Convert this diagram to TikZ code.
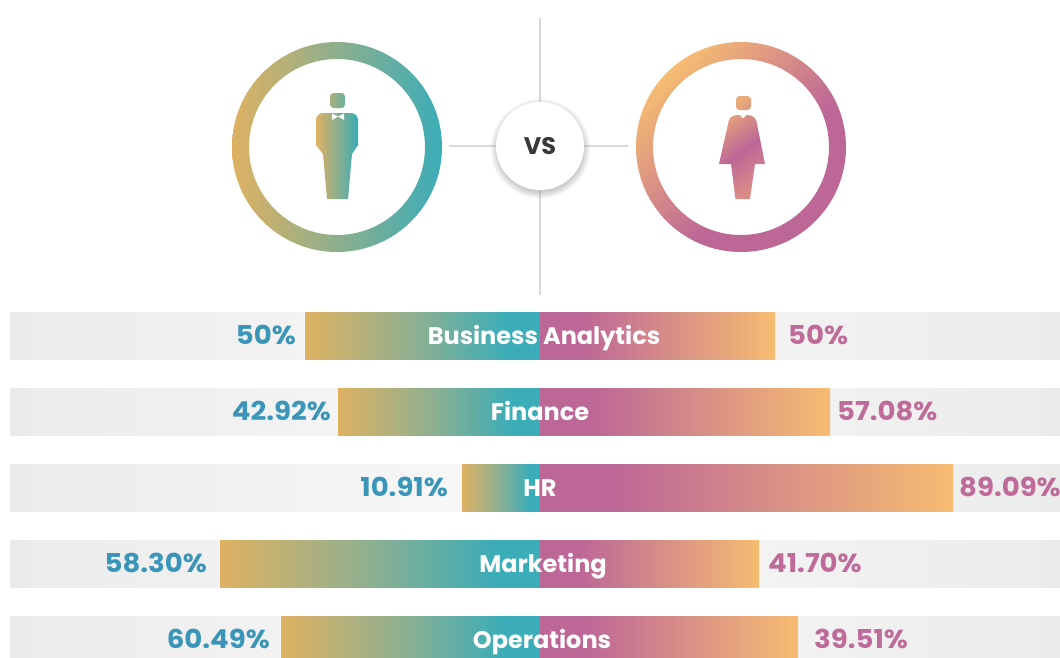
\documentclass[tikz,border=0pt]{standalone}
\usepackage{fontspec}
\setmainfont{Poppins}
\newfontfamily\widepop[FakeStretch=1.06]{Poppins}
\usetikzlibrary{shadows,fadings}
\definecolor{cteal}{HTML}{3BADB8}
\definecolor{cgold}{HTML}{DEB162}
\definecolor{cmidg}{HTML}{93B08E}
\definecolor{cpink}{HTML}{BD6797}
\definecolor{corange}{HTML}{F6BC72}
\definecolor{cpo}{HTML}{D98C87}
\definecolor{cblue}{HTML}{3A95B8}
\definecolor{cmauve}{HTML}{BF6B9A}
\definecolor{ctrack}{HTML}{EBEBEB}
\definecolor{ctrackl}{HTML}{F9F9F9}
\definecolor{cguide}{HTML}{D9D9D9}
\definecolor{cvs}{HTML}{383838}
\pgfdeclarehorizontalshading{mbar}{100bp}{color(0bp)=(cgold); color(25bp)=(cgold); color(47bp)=(cmidg); color(68bp)=(cteal); color(100bp)=(cteal)}
\pgfdeclarehorizontalshading{wbar}{100bp}{color(0bp)=(cpink); color(25bp)=(cpink); color(34bp)=(cpink); color(75bp)=(corange); color(100bp)=(corange)}
\pgfdeclareverticalshading{wring}{100bp}{color(0bp)=(cpink); color(25bp)=(cpink); color(42bp)=(cpink); color(75bp)=(corange); color(100bp)=(corange)}
\pgfdeclareverticalshading{wicon}{100bp}{color(0bp)=(cpo); color(25bp)=(cpo); color(48bp)=(cpink); color(75bp)=(corange!80!cpink); color(100bp)=(corange!80!cpink)}
\newcommand{\pctfont}{\widepop\bfseries\fontsize{26}{26}\selectfont}
\newcommand{\labfont}{\bfseries\fontsize{24}{24}\selectfont}
\begin{document}
\begin{tikzpicture}[x=1pt,y=-1pt,
  guide/.style={draw=cguide, line width=1.6pt},
  vsbox/.style={circle, fill=white, minimum size=88pt, inner sep=0pt,
    circular drop shadow={shadow xshift=0pt, shadow yshift=-2pt, shadow scale=1.14, opacity=0.4},
    font=\bfseries\fontsize{24}{24}\selectfont, text=cvs},
  track/.style={left color=ctrack, right color=ctrack, middle color=ctrackl},
  lpct/.style={anchor=base east, inner sep=0pt, text=cblue, font=\pctfont},
  rpct/.style={anchor=base west, inner sep=0pt, text=cmauve, font=\pctfont},
  clab/.style={anchor=base, inner sep=0pt, text=white, font=\labfont}]
\useasboundingbox (0,0) rectangle (1060,657);
\clip (0,0) rectangle (1060,657);
\fill[white] (0,0) rectangle (1060,657);
% guide lines
\coordinate (vt) at (540,18);
\coordinate (vb) at (540,295);
\coordinate (hl) at (449,146);
\coordinate (hr) at (628,146);
\draw[guide] (vt) -- (vb);
\draw[guide] (hl) -- (hr);
% rings
\shade[left color=cgold, right color=cteal, even odd rule]
  (337,147) circle[radius=105pt] (337,147) circle[radius=88pt];
\shade[shading=wring, shading angle=45, even odd rule]
  (741,147) circle[radius=105pt] (741,147) circle[radius=88pt];
% man icon
\shade[left color=cgold, right color=cteal]
  [rounded corners=3.5pt] (330,93) rectangle (345,108)
  [sharp corners]
  (316,145) -- (316,120) arc[start angle=180, end angle=90, radius=7pt]
  -- (351,113) arc[start angle=90, end angle=0, radius=7pt]
  -- (358,145) -- (352,154) -- (348,199) -- (327,199) -- (323,154) -- cycle;
\fill[white] (332,113.5) -- (338,116.5) -- (332,120) -- cycle;
\fill[white] (344,113.5) -- (338,116.5) -- (344,120) -- cycle;
% woman icon
\shade[shading=wicon, shading angle=35]
  [rounded corners=3.5pt] (736,96) rectangle (751,110)
  [sharp corners]
  (728,124) arc[start angle=180, end angle=90, radius=9pt]
  -- (748,115) arc[start angle=90, end angle=0, radius=9pt]
  -- (765,164) -- (755,164) -- (750,199) -- (735.5,199) -- (731,164) -- (719,164) -- cycle;
\fill[white] (739,114) -- (747,114) -- (743,118.5) -- cycle;
% vs
\node[vsbox] (vs) at (540,146) {VS};
% bars
\foreach \i/\l/\r/\lx/\rx/\cx/\lp/\rp/\name in {
  0/305/775/296/788/544/50\%/50\%/Business Analytics,
  1/338/830/331/837/540/42.92\%/57.08\%/Finance,
  2/462/953/448/959/540/10.91\%/89.09\%/HR,
  3/220/759/207/768/543/58.30\%/41.70\%/Marketing,
  4/281/798/270/814/542/60.49\%/39.51\%/Operations}{
  \pgfmathsetmacro\yt{312+76*\i}
  \pgfmathsetmacro\yb{\yt+47}
  \pgfmathsetmacro\ybase{\yt+23.5+9}
  \shade[track] (10,\yt) rectangle (1060,\yb);
  \shade[shading=mbar] (\l,\yt) rectangle (540,\yb);
  \shade[shading=wbar] (540,\yt) rectangle (\r,\yb);
  \node[lpct] (lp\i) at (\lx,\ybase) {\lp};
  \node[rpct] (rp\i) at (\rx,\ybase) {\rp};
  \node[clab] (lab\i) at (\cx,\ybase) {\name};
}
\end{tikzpicture}
\end{document}
